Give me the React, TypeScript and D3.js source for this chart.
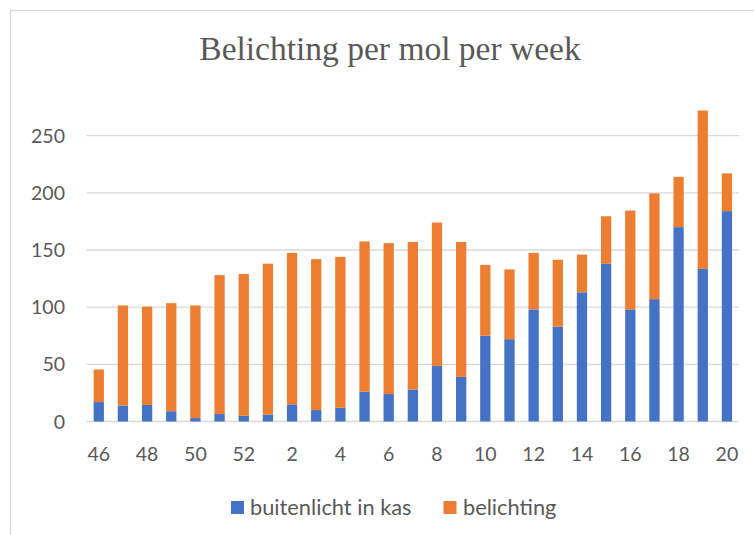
import React from "react";
import * as d3 from "d3";

const weeks = [46, 47, 48, 49, 50, 51, 52, 1, 2, 3, 4, 5, 6, 7, 8, 9, 10, 11, 12, 13, 14, 15, 16, 17, 18, 19, 20];
const buitenlicht = [17, 14, 14.5, 9, 3, 6.5, 5, 6, 15, 10, 12, 26, 24, 28, 48.5, 39, 75, 72, 98, 83, 113, 138, 98, 107, 170, 133.5, 184];
const belichting = [28.5, 87.5, 86, 94.5, 98.5, 121.5, 124, 132, 132.5, 132, 132, 131.5, 132, 129, 125.5, 118, 62, 61, 49.5, 58.5, 33, 41.5, 86.5, 92.5, 44, 138.5, 33];
const xTickLabels = [46, 48, 50, 52, 2, 4, 6, 8, 10, 12, 14, 16, 18, 20];
const yTicks = [0, 50, 100, 150, 200, 250];
const seriesNames = ["buitenlicht in kas", "belichting"];
const seriesColors = ["#4472C4", "#ED7D31"];
const title = "Belichting per mol per week";

const W = 754;
const H = 535;
const SANS = "Lato, 'Open Sans', sans-serif";
const SERIF = "'Liberation Serif', 'DejaVu Serif', serif";
const TEXT = "#595959";

export default function App() {
  const rows = weeks.map((w, i) => ({ week: String(w), buiten: buitenlicht[i], bel: belichting[i] }));
  const stacked = d3.stack<any>().keys(["buiten", "bel"])(rows);

  const x = d3
    .scaleBand<string>()
    .domain(weeks.map(String))
    .range([86.7, 739])
    .paddingInner(0.574)
    .paddingOuter(0.287);
  const y = d3.scaleLinear().domain([0, 300]).range([421.5, 78.5]);

  return (
    <div style={{ position: "absolute", left: 0, top: 0 }}>
      <svg width={W} height={H} style={{ display: "block", background: "#fff" }}>
        <rect x={10.5} y={10.5} width={W + 20} height={H + 20} fill="#fff" stroke="#d9d9d9" strokeWidth={1.3} />
        <text x={390} y={60} textAnchor="middle" fontFamily={SERIF} fontSize={33.5} fill={TEXT}>
          {title}
        </text>
        {yTicks.map((t) => (
          <g key={t}>
            <line x1={86.7} x2={739} y1={y(t)} y2={y(t)} stroke="#d9d9d9" strokeWidth={1.3} />
            <text x={65} y={y(t)} dy="0.36em" textAnchor="end" fontFamily={SANS} fontSize={19.5} fill={TEXT}>
              {t}
            </text>
          </g>
        ))}
        {stacked.map((s, si) => (
          <g key={si} fill={seriesColors[si]}>
            {s.map((d, i) => (
              <rect
                key={i}
                x={x(String(weeks[i]))}
                width={x.bandwidth()}
                y={y(d[1])}
                height={y(d[0]) - y(d[1])}
              />
            ))}
          </g>
        ))}
        {xTickLabels.map((l) => (
          <text
            key={l}
            x={(x(String(l)) as number) + x.bandwidth() / 2}
            y={461}
            textAnchor="middle"
            fontFamily={SANS}
            fontSize={19.5}
            fill={TEXT}
          >
            {l}
          </text>
        ))}
        <g>
          <rect x={231} y={501} width={13} height={13} fill={seriesColors[0]} />
          <text x={250} y={515} fontFamily={SANS} fontSize={21.8} fill={TEXT}>
            {seriesNames[0]}
          </text>
          <rect x={443.5} y={501} width={13} height={13} fill={seriesColors[1]} />
          <text x={463} y={515} fontFamily={SANS} fontSize={21.8} fill={TEXT}>
            {seriesNames[1]}
          </text>
        </g>
      </svg>
    </div>
  );
}
